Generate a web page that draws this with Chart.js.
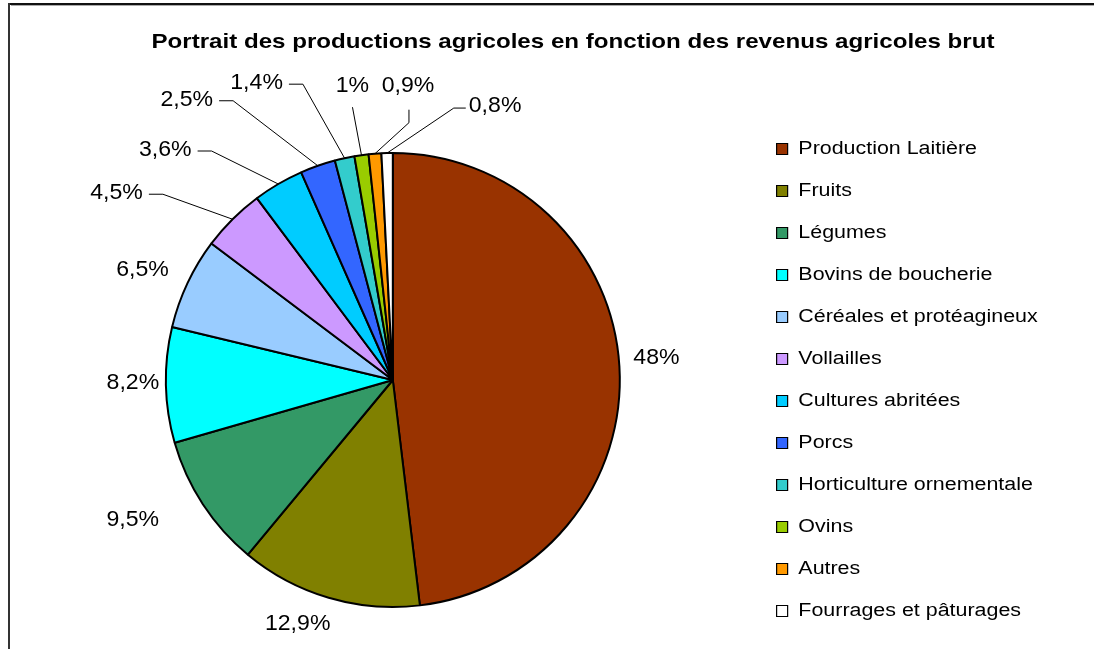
<!DOCTYPE html>
<html>
<head>
<meta charset="utf-8">
<script src="https://cdn.jsdelivr.net/npm/chart.js@4/dist/chart.umd.min.js"></script>
<style>
body { margin: 0; background: #fff; }
</style>
</head>
<body>
<canvas id="chart" width="1094" height="649"></canvas>
<script>
var title = "Portrait des productions agricoles en fonction des revenus agricoles brut";
var categories = ["Production Laitière", "Fruits", "Légumes", "Bovins de boucherie",
    "Céréales et protéagineux", "Vollailles", "Cultures abritées", "Porcs",
    "Horticulture ornementale", "Ovins", "Autres", "Fourrages et pâturages"];
var values = [48, 12.9, 9.5, 8.2, 6.5, 4.5, 3.6, 2.5, 1.4, 1, 0.9, 0.8];
var colors = ["#993300", "#808000", "#339966", "#00FFFF", "#99CCFF", "#CC99FF",
    "#00CCFF", "#3366FF", "#33CCCC", "#99CC00", "#FF9900", "#FFFFFF"];

// label placement, relative to the rim point in the middle of each slice
var label_offsets = [[37, -8], [-31, 26], [-70, 16], [-33, -2], [-45, -13], [-116, -26],
    [-113, -34], [-131, -66], [-88, -75], [-9, -69], [33, -68], [108, -47]];
var label_leaders = [null, null, null, null, null, 'left', 'left', 'left', 'left', 'below', 'elbow', 'right'];

var font = "'Liberation Sans', Arial, sans-serif";
var TEXT_SX = 1.19;   // the original text is drawn a bit wide
var LABEL_SX = 1.05;

function fmt(v) {
    return String(v).replace('.', ',') + '%';
}

function stretched_text(ctx, text, x, y, sx) {
    ctx.save();
    ctx.translate(x, y);
    ctx.scale(sx, 1);
    ctx.fillText(text, 0, 0);
    ctx.restore();
}

var frame_plugin = {
    id: 'frame',
    beforeDraw: function(chart) {
        var ctx = chart.ctx;
        ctx.save();
        ctx.fillStyle = '#fff';
        ctx.fillRect(0, 0, chart.width, chart.height);
        ctx.fillStyle = '#111';
        ctx.fillRect(9, 3, chart.width - 9, 2);
        ctx.fillStyle = '#aaa';
        ctx.fillRect(11, 5, chart.width - 11, 1);
        ctx.fillStyle = '#333';
        ctx.fillRect(8, 3, 2, chart.height - 3);

        ctx.font = 'bold 21px ' + font;
        ctx.fillStyle = '#000';
        ctx.textAlign = 'center';
        ctx.textBaseline = 'alphabetic';
        var w = ctx.measureText(title).width;
        stretched_text(ctx, title, 573, 48, 843 / w);
        ctx.restore();

        // stretch the legend the same way as the rest of the text
        var legend = chart.legend;
        if (legend && !legend._stretched) {
            var orig = legend.draw;
            legend.draw = function() {
                var c = this.ctx;
                var x0 = this.left + this.options.labels.padding;
                c.save();
                c.translate(x0, 0);
                c.scale(TEXT_SX, 1);
                c.translate(-x0, 0);
                orig.apply(this, arguments);
                c.restore();
            };
            legend._stretched = true;
        }
    }
};

var labels_plugin = {
    id: 'valueLabels',
    afterDatasetsDraw: function(chart) {
        var ctx = chart.ctx;
        var meta = chart.getDatasetMeta(0);
        ctx.save();
        ctx.font = '22px ' + font;
        ctx.fillStyle = '#000';
        ctx.strokeStyle = '#000';
        ctx.lineWidth = 1;
        ctx.textAlign = 'center';
        ctx.textBaseline = 'middle';
        meta.data.forEach(function(arc, i) {
            var p = arc.getProps(['x', 'y', 'startAngle', 'endAngle', 'outerRadius']);
            var mid = (p.startAngle + p.endAngle) / 2;
            var rx = p.x + Math.cos(mid) * p.outerRadius;
            var ry = p.y + Math.sin(mid) * p.outerRadius;
            var tx = rx + label_offsets[i][0];
            var ty = ry + label_offsets[i][1];
            var text = fmt(values[i]);
            var hw = ctx.measureText(text).width * LABEL_SX / 2;
            stretched_text(ctx, text, tx, ty, LABEL_SX);
            var lead = label_leaders[i];
            if (!lead) return;
            ctx.beginPath();
            if (lead == 'left') {
                ctx.moveTo(tx + hw + 6, ty + 1);
                ctx.lineTo(tx + hw + 20, ty + 1);
            } else if (lead == 'right') {
                ctx.moveTo(tx - hw - 3, ty + 2);
                ctx.lineTo(tx - hw - 15, ty + 2);
            } else if (lead == 'below') {
                ctx.moveTo(tx, ty + 21);
            } else if (lead == 'elbow') {
                ctx.moveTo(tx + 1, ty + 24);
                ctx.lineTo(tx + 1, ty + 37);
            }
            ctx.lineTo(rx, ry);
            ctx.stroke();
        });
        ctx.restore();
    }
};

var chart = new Chart(document.getElementById('chart'), {
    type: 'pie',
    data: {
        labels: categories,
        datasets: [{
            data: values,
            backgroundColor: colors,
            borderColor: '#000',
            borderWidth: 2,
            radius: 227
        }]
    },
    options: {
        responsive: false,
        animation: false,
        devicePixelRatio: 1,
        layout: {padding: {left: 33, right: 88, top: 111, bottom: 0}},
        plugins: {
            title: {display: false},
            tooltip: {enabled: false},
            legend: {
                position: 'right',
                labels: {
                    font: {family: font, size: 18},
                    color: '#000',
                    boxWidth: 9.25,
                    boxHeight: 11,
                    padding: 24,
                    generateLabels: function(chart) {
                        var items = Chart.overrides.pie.plugins.legend.labels.generateLabels(chart);
                        items.forEach(function(it) {
                            it.lineWidth = 1;
                            it.strokeStyle = '#000';
                        });
                        return items;
                    }
                }
            }
        }
    },
    plugins: [frame_plugin, labels_plugin]
});
</script>
</body>
</html>
